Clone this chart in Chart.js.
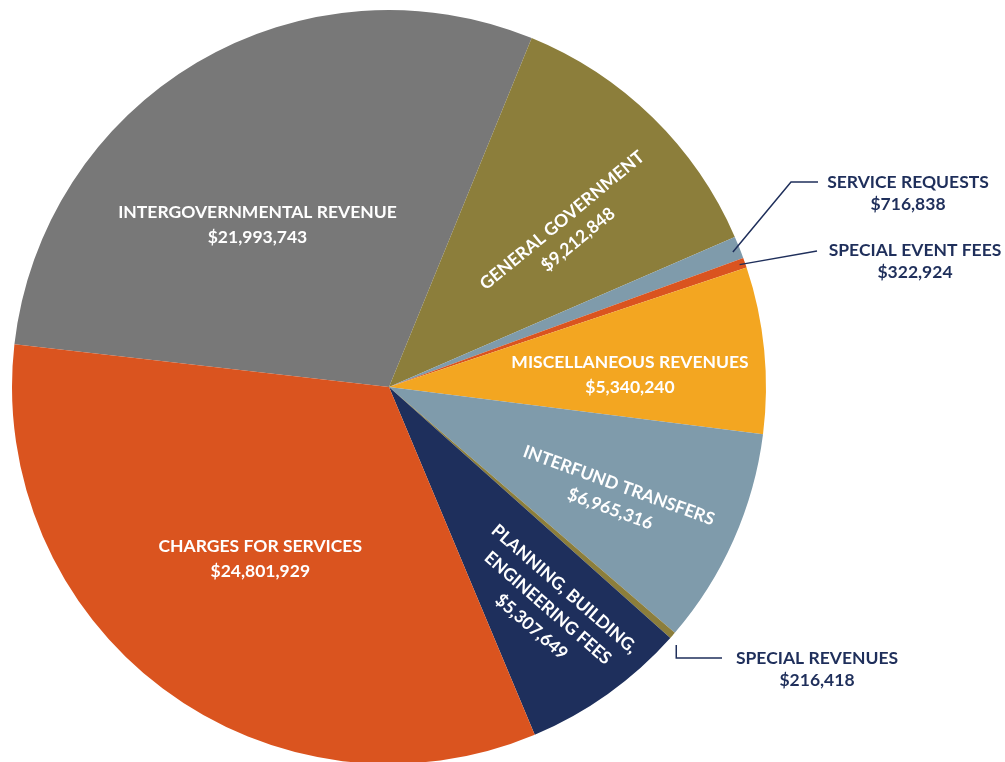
<!DOCTYPE html>
<html>
<head>
<meta charset="utf-8">
<script src="https://cdn.jsdelivr.net/npm/chart.js@4/dist/chart.umd.min.js"></script>
<style>
  html, body { margin: 0; padding: 0; background: #fff; overflow: hidden; }
  #wrap { position: relative; width: 1005px; height: 780px; }
</style>
</head>
<body>
<div id="wrap"><canvas id="revenuePie"></canvas></div>
<script>
// Revenues by source, clockwise from the left edge of the pie
const categories = [
  "INTERGOVERNMENTAL REVENUE",
  "GENERAL GOVERNMENT",
  "SERVICE REQUESTS",
  "SPECIAL EVENT FEES",
  "MISCELLANEOUS REVENUES",
  "INTERFUND TRANSFERS",
  "SPECIAL REVENUES",
  "PLANNING, BUILDING, ENGINEERING FEES",
  "CHARGES FOR SERVICES",
];
const amounts = [21993743, 9212848, 716838, 322924, 5340240, 6965316, 216418, 5307649, 24801929];
const sliceColors = ["#787878", "#8c7e3b", "#7f9bab", "#da541f", "#f3a621", "#7f9bab", "#8c7e3b", "#1e2f5c", "#da541f"];

const NAVY = "#1f2f5b";
const LABEL_FONT = "bold 17.5px Lato";

const money = (v) => "$" + v.toLocaleString("en-US");

// labels drawn on the slices: angle shift from slice middle (deg), distance (share of radius), text rotation (deg)
const insideLabels = [
  { index: 0, shift: -8.4, dist: 0.554, rot: 0 },
  { index: 1, shift: 4.7, dist: 0.636, rot: -39.6 },
  { index: 4, shift: 2.7, dist: 0.64, rot: 0 },
  { index: 5, shift: 2.1, dist: 0.666, rot: 20 },
  { index: 7, shift: -0.2, dist: 0.722, rot: 41, wrap: ["PLANNING, BUILDING,", "ENGINEERING FEES"] },
  { index: 8, shift: 0, dist: 0.569, rot: 0 },
];

// labels outside the pie with leader lines; offsets are from the pie centre
const outsideLabels = [
  { index: 2, shift: 0.3, dist: 0.98, path: [[402, -205], [429, -205]], text: [519, -194] },
  { index: 3, shift: 0, dist: 0.985, path: [[428, -136]], text: [526, -126] },
  { index: 6, shift: 0.7, dist: 1.024, path: [[null, 271], [333, 271]], text: [428, 282] },
];

const sliceLabels = {
  id: "sliceLabels",
  afterDatasetsDraw(chart) {
    const ctx = chart.ctx;
    const arcs = chart.getDatasetMeta(0).data;
    const rad = Math.PI / 180;
    ctx.save();
    ctx.font = LABEL_FONT;
    ctx.textAlign = "center";
    ctx.textBaseline = "middle";

    insideLabels.forEach((l) => {
      const arc = arcs[l.index];
      const a = (arc.startAngle + arc.endAngle) / 2 + l.shift * rad;
      const r = arc.outerRadius * l.dist;
      const lines = (l.wrap || [categories[l.index]]).concat(money(amounts[l.index]));
      ctx.save();
      ctx.translate(arc.x + Math.cos(a) * r, arc.y + Math.sin(a) * r);
      ctx.rotate(l.rot * rad);
      ctx.fillStyle = "#fff";
      lines.forEach((t, k) => ctx.fillText(t, 0, (k - (lines.length - 1) / 2) * 25));
      ctx.restore();
    });

    outsideLabels.forEach((l) => {
      const arc = arcs[l.index];
      const a = (arc.startAngle + arc.endAngle) / 2 + l.shift * rad;
      const r = arc.outerRadius * l.dist;
      let px = arc.x + Math.cos(a) * r;
      let py = arc.y + Math.sin(a) * r;
      ctx.strokeStyle = NAVY;
      ctx.lineWidth = 1.5;
      ctx.beginPath();
      ctx.moveTo(px, py);
      l.path.forEach(([dx, dy]) => {
        px = dx === null ? px : arc.x + dx;
        py = dy === null ? py : arc.y + dy;
        ctx.lineTo(px, py);
      });
      ctx.stroke();
      ctx.fillStyle = NAVY;
      const tx = arc.x + l.text[0];
      const ty = arc.y + l.text[1];
      ctx.fillText(categories[l.index], tx, ty - 11);
      ctx.fillText(money(amounts[l.index]), tx, ty + 11);
    });
    ctx.restore();
  },
};

new Chart(document.getElementById("revenuePie"), {
  type: "pie",
  data: {
    labels: categories,
    datasets: [
      {
        data: amounts,
        backgroundColor: sliceColors,
        borderWidth: 0,
      },
    ],
  },
  options: {
    responsive: true,
    maintainAspectRatio: false,
    animation: false,
    rotation: 276.5,
    layout: { padding: { left: 12, right: 239, top: 10, bottom: 16 } },
    plugins: {
      legend: { display: false },
      tooltip: { enabled: false },
    },
  },
  plugins: [sliceLabels],
});
</script>
</body>
</html>
